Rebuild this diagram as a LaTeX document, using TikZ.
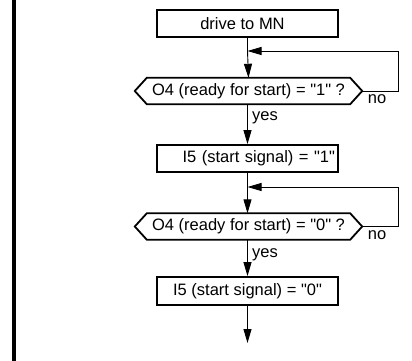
\documentclass[tikz,border=0pt]{standalone}
\usepackage{fontspec}
\setmainfont{Liberation Sans}[Ligatures=TeXOff]
\usetikzlibrary{positioning,calc,arrows.meta}

\begin{document}
\begin{tikzpicture}[
    x=1pt, y=-1pt,
    font=\fontsize{16.5}{19}\selectfont,
    Abox/.style={draw=black, line width=1.8pt, minimum width=181pt, minimum height=27pt, inner sep=0pt},
    Qtxt/.style={minimum width=203pt, minimum height=26pt, inner sep=0pt},
    Qbox/.style={draw=black, line width=1.8pt, line join=miter},
    ln/.style={line width=0.9pt},
    arr/.style={line width=0.9pt, -{Triangle[length=14pt, width=8pt]}},
    lbl/.style={font=\fontsize{16.5}{19}\selectfont, inner sep=0pt},
]
\useasboundingbox[fill=white] (0,0) rectangle (412,361);
\draw[line width=3.4pt] (14,0) -- (14,361);

\node[Abox] (drv) at (247.5, 23.5) {\hspace*{-10pt}drive to MN};
\coordinate (m1) at (247.5, 51);
\coordinate (k1) at (398, 51);

\node[Qtxt] (q1) at (248.5, 91) {O4 (ready for start) = "1" ?};
\coordinate (q1l) at ($(q1.west)+(-12,0)$);
\coordinate (q1r) at ($(q1.east)+(12,0)$);
\draw[Qbox] (q1.north west) -- (q1.north east) -- (q1r) -- (q1.south east)
    -- (q1.south west) -- (q1l) -- cycle;
\coordinate (n1) at (398, 91);
\node[lbl] (no1) at (377, 99) {no};

\node[Abox, text width=175pt, align=right] (st1) at (247.5, 158.5) {I5 (start signal) = "1"};
\node[lbl, anchor=west] (yes1) at (252, 118) {yes};
\coordinate (m2) at (247.5, 187);
\coordinate (k2) at (398, 187);

\node[Qtxt] (q2) at (248.5, 226.5) {O4 (ready for start) = "0" ?};
\coordinate (q2l) at ($(q2.west)+(-12,0)$);
\coordinate (q2r) at ($(q2.east)+(12,0)$);
\draw[Qbox] (q2.north west) -- (q2.north east) -- (q2r) -- (q2.south east)
    -- (q2.south west) -- (q2l) -- cycle;
\coordinate (n2) at (398, 226.5);
\node[lbl] (no2) at (377, 235) {no};

\node[Abox, minimum height=28pt] (st0) at (247.5, 291) {I5 (start signal) = "0"};
\node[lbl, anchor=west] (yes2) at (252, 255) {yes};
\coordinate (fin) at (247.5, 343);

\draw[ln] (drv.south) -- (m1);
\draw[arr] (m1) -- (q1.north);
\draw[arr] (q1r) -- (n1) -- (k1) -- (m1);
\draw[arr] (q1.south -| m1) -- (st1.north);
\draw[ln] (st1.south) -- (m2);
\draw[arr] (m2) -- (q2.north -| m2);
\draw[arr] (q2r) -- (n2) -- (k2) -- (m2);
\draw[arr] (q2.south -| m2) -- (st0.north);
\draw[arr] (st0.south) -- (fin);
\end{tikzpicture}
\end{document}
